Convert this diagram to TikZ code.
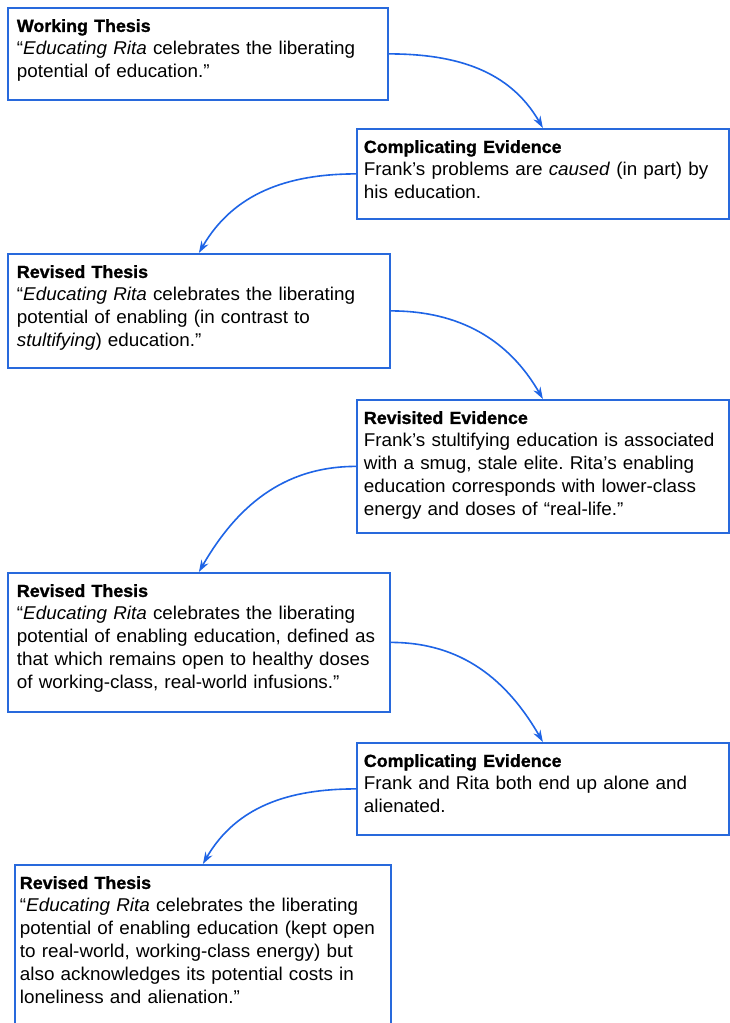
\documentclass[tikz,border=0pt]{standalone}
\usepackage{fontspec}
\setmainfont{Liberation Sans}[FakeStretch=1.02, BoldFeatures={FakeBold=1.2}]
\usetikzlibrary{arrows.meta}
\definecolor{boxblue}{RGB}{40,105,220}
\definecolor{linkblue}{RGB}{30,100,230}
\newcommand{\cardhead}[1]{{\fontsize{17.5}{23}\selectfont\bfseries #1}}
\frenchspacing

\begin{document}
\begin{tikzpicture}[x=1pt, y=-1pt,
    card/.style={draw=boxblue, line width=1.8pt, anchor=north west, align=left,
      inner xsep=9pt, inner ysep=0pt, text height=24pt,
      font=\fontsize{18.5}{23}\selectfont},
    link/.style={draw=linkblue, line width=1.6pt, -{Stealth[length=12pt,width=8pt]}}]
        \useasboundingbox (0,0) rectangle (730,1023);
        \fill [white] (0,0) rectangle (730,1023);                       %
        \node [card, text width=362pt, text depth=68pt]  (work)  at (7,7)
          {\cardhead{Working Thesis}\\
           “\textit{Educating Rita} celebrates the liberating\\
           potential of education.”};                                    %thesis
        \node [card, inner xsep=7pt, text width=358pt, text depth=66pt]  (comp)  at (356,128)
          {\cardhead{Complicating Evidence}\\
           Frank’s problems are \textit{caused} (in part) by\\
           his education.};                                              %evidence
        \node [card, text width=364pt, text depth=90pt]  (rev)   at (7,253)
          {\cardhead{Revised Thesis}\\
           “\textit{Educating Rita} celebrates the liberating\\
           potential of enabling (in contrast to\\
           \textit{stultifying}) education.”};                            %thesis
        \node [card, inner xsep=7pt, text width=358pt, text depth=109pt] (revis) at (356,399)
          {\cardhead{Revisited Evidence}\\
           Frank’s stultifying education is associated\\
           with a smug, stale elite. Rita’s enabling\\
           education corresponds with lower-class\\
           energy and doses of “real-life.”};                             %evidence
        \node [card, text width=364pt, text depth=115pt] (revtwo) at (7,572)
          {\cardhead{Revised Thesis}\\
           “\textit{Educating Rita} celebrates the liberating\\
           potential of enabling education, defined as\\
           that which remains open to healthy doses\\
           of working-class, real-world infusions.”};                     %thesis
        \node [card, inner xsep=7pt, text width=358pt, text depth=68pt]  (comptwo) at (356,742)
          {\cardhead{Complicating Evidence}\\
           Frank and Rita both end up alone and\\
           alienated.};                                                   %evidence
        \node [card, inner xsep=5pt, text width=366pt, text depth=160pt] (revthree) at (14,864)
          {\cardhead{Revised Thesis}\\
           “\textit{Educating Rita} celebrates the liberating\\
           potential of enabling education (kept open\\
           to real-world, working-class energy) but\\
           also acknowledges its potential costs in\\
           loneliness and alienation.”};                                  %thesis
        \draw [link] (work.east)    to [out=0,in=120]   (comp.north);       %
        \draw [link] (comp.west)    to [out=180,in=60]  (rev.north);        %
        \draw [link] (rev.east)     to [out=0,in=120]   (revis.north);      %
        \draw [link] (revis.west)   to [out=180,in=60]  (revtwo.north);     %
        \draw [link] (revtwo.east)  to [out=0,in=120]   (comptwo.north);    %
        \draw [link] (comptwo.west) to [out=180,in=60]  (revthree.north);   %
\end{tikzpicture}
\end{document}
